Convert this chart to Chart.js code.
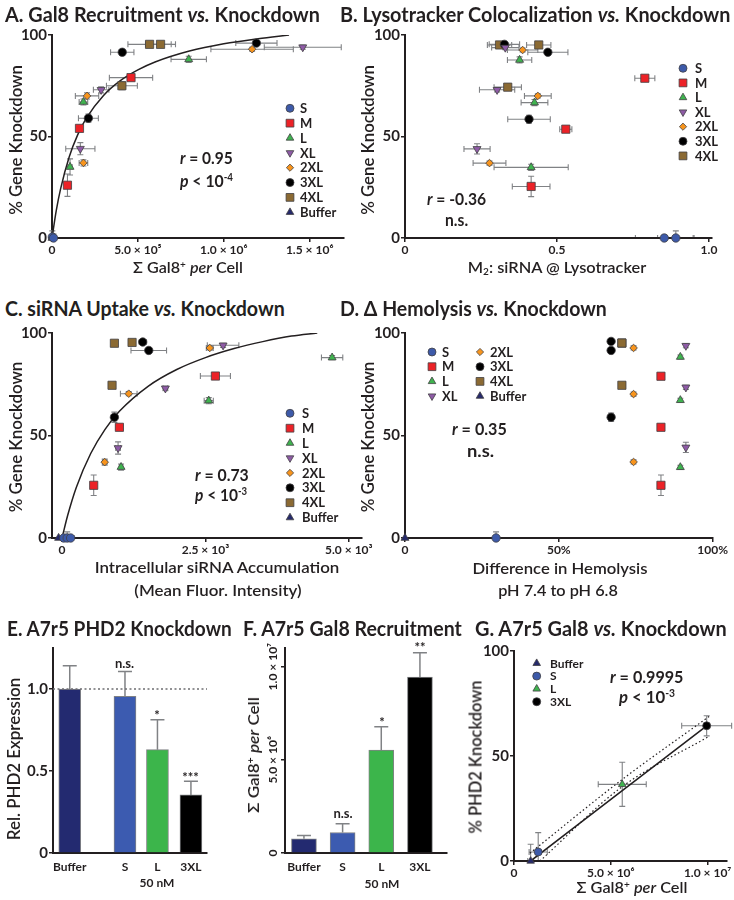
<!DOCTYPE html>
<html>
<head>
<meta charset="utf-8">
<script src="https://cdn.jsdelivr.net/npm/chart.js@4.4.1/dist/chart.umd.min.js"></script>
<style>
  body { margin: 0; width: 734px; height: 900px; position: relative; overflow: hidden; background: #fff; }
  canvas { position: absolute; }
  .t { position: absolute; white-space: nowrap; transform-origin: 0 0; color: #231f20; }
  .t sup { font-size: 0.62em; vertical-align: 0.55em; line-height: 0; }
  .t sub { font-size: 0.62em; vertical-align: -0.25em; line-height: 0; }
</style>
</head>
<body>
<script>
// ---- series order used by panels A-D
const series = ['S', 'M', 'L', 'XL', '2XL', '3XL', '4XL', 'Buffer'];

// A: sum Gal8+ per cell vs % knockdown
const aX = [[2e3, 9e3], [4.6e5, 1.6e5, 0.9e5], [7.96e5, 1.83e5, 1.05e5], [1.46e6, 2.86e5, 1.65e5],
            [1.165e6, 2.04e5, 1.83e5], [1.19e6, 4.09e5, 2.12e5], [5.68e5, 6.32e5, 4.07e5], [0]];
const aY = [[0.5, 0], [79, 54, 26], [88, 67, 35], [94, 73, 44], [93, 70, 37], [96, 91.5, 59], [95.4, 95.4, 75], [0]];
const aEX = [[8e3, 6e3], [1.26e5, 0.15e5, 0.15e5], [1.03e5, 0.25e5, 0.12e5], [2.24e5, 0.45e5, 0.85e5],
             [2.4e5, 0.68e5, 0.25e5], [1.2e5, 0.68e5, 0.58e5], [1.26e5, 0.87e5, 0.9e5], [0]];
const aEY = [[3, 2], [1.5, 1.5, 5.5], [1.5, 1.5, 4], [1, 1.5, 3], [1, 1.5, 1.5], [1, 1.5, 2], [1, 1, 2], [0]];
const aFitX = [0, 0.25e5, 0.5e5, 1e5, 1.5e5, 2e5, 3e5, 4e5, 5e5, 6e5, 8e5, 10e5, 12e5, 13.8e5];
const aFitY = [0, 13.6, 24.2, 39.9, 50.9, 59.0, 70.2, 77.6, 82.8, 86.7, 92.1, 95.7, 98.2, 100];

// B: M2 siRNA @ Lysotracker vs % knockdown
const bX = [[0.853, 0.891], [0.789, 0.529, 0.415], [0.377, 0.426, 0.415], [0.33, 0.303, 0.237],
            [0.387, 0.437, 0.278], [0.327, 0.470, 0.408], [0.311, 0.44, 0.338], []];
const bY = [[0, 0], [78.7, 53.6, 25.4], [87.7, 66.7, 34.8], [93.8, 73, 43.9], [92.6, 70, 36.9],
            [95.4, 91.5, 58.5], [95.1, 95.1, 74.3], []];
const bEX = [[0.095, 0.06], [0.033, 0.02, 0.062], [0.04, 0.044, 0.122], [0.045, 0.058, 0.043],
             [0.05, 0.044, 0.054], [0.05, 0.066, 0.07], [0.04, 0.04, 0.045], []];
const bEY = [[1.5, 3.5], [1.5, 1.5, 5], [1.5, 1.5, 1.5], [1, 1, 2.5], [1, 1, 1], [1, 1, 2], [1, 1, 1.5], []];

// C: intracellular siRNA (MFI) vs % knockdown
const cX = [[30, 90, 150], [2674, 1000, 552], [4709, 2558, 1029], [2808, 1802, 977],
            [2576, 1163, 744], [1407, 1512, 913], [913, 1221, 872], [-60]];
const cY = [[0, 0, 0], [79, 54, 25.7], [88, 67, 34.6], [94, 73, 43.9], [92.7, 70.4, 37],
            [95.6, 91.5, 58.9], [95, 95.4, 74.5], [0]];
const cEX = [[40, 40, 60], [262, 60, 40], [186, 80, 30], [275, 40, 40], [60, 145, 40], [60, 310, 40], [30, 40, 40], [0]];
const cEY = [[1, 3, 1], [1.5, 1.5, 5], [1, 1.5, 1.5], [1, 1, 3], [1, 1, 1.5], [1, 1, 2.5], [1, 1, 1.5], [0]];
const cFitX = [0, 100, 250, 500, 750, 1000, 1500, 2000, 2500, 3000, 3500, 4000, 4450];
const cFitY = [0, 11.2, 24.8, 41.2, 53, 61.8, 74, 82.2, 88, 92.4, 95.8, 98.5, 100];

// D: hemolysis difference (%) vs % knockdown
const dX = [[29.6], [83.2, 83.2, 83.2], [89.5, 89.5, 89.5], [91.3, 91.3, 91.3], [74.3, 74.3, 74.3],
            [67, 67, 67], [70.5, 70.5, 70.5], [0]];
const dY = [[0], [78.9, 54, 25.7], [88.3, 67.2, 34.5], [93.8, 73.5, 44.2], [92.7, 70.2, 37.1],
            [95.9, 91.5, 58.9], [95.1, 95.1, 74.5], [0]];
const dEY = [[3], [1.5, 1.5, 5], [1, 1, 1], [1, 1, 2.5], [1, 1, 1], [1, 1, 2], [1, 1, 1], [0]];

// E: A7r5 PHD2 expression (50 nM)
const eNames = ['Buffer', 'S', 'L', '3XL'];
const eX = [0, 1.65, 2.62, 3.62];
const eVal = [1.0, 0.955, 0.63, 0.354];
const eErr = [0.142, 0.152, 0.183, 0.083];
const eStars = ['', 'n.s.', '*', '***'];
const eRefX = [-0.5, 4.1];
const eRefY = [1, 1];

// F: A7r5 Gal8 recruitment
const fNames = ['Buffer', 'S', 'L', '3XL'];
const fX = [0, 1, 2, 3];
const fVal = [0.76e6, 1.10e6, 5.52e6, 9.44e6];
const fErr = [0.18e6, 0.47e6, 1.25e6, 1.31e6];
const fStars = ['', 'n.s.', '*', '**'];

// G: A7r5 Gal8 vs knockdown
const gNames = ['Buffer', 'S', 'L', '3XL'];
const gX = [0.86e6, 1.25e6, 5.59e6, 9.95e6];
const gY = [0, 4.3, 36.5, 64.4];
const gEX = [0.15e6, 0.47e6, 1.24e6, 1.29e6];
const gEY = [8, 9.2, 10.5, 4.8];
const gFitX = [0.86e6, 9.95e6];
const gFitY = [0, 64.4];
const gHiX = [0.82e6, 5.5e6, 10.1e6];
const gHiY = [3.7, 38.2, 69];
const gLoX = [1.34e6, 5.5e6, 10.1e6];
const gLoY = [0, 34.8, 59.5];

// ---- styles
const INK = '#231f20';
const EDGE = '#414042';
const WHISKER = '#808285';
const SANS = "Lato, 'Open Sans', sans-serif";
const fill = ['#3d5aa9', '#ec2227', '#3fb34f', '#8e5ba6', '#f7941d', '#000000', '#8b6a33', '#262a6b'];
const shape = ['circle', 'rect', 'triangle', 'triangle', 'rectRot', 'circle', 'rect', 'triangle'];
const turn = [0, 0, 0, 180, 0, 0, 0, 0];
const rad = [4.2, 5.8, 4.6, 4.6, 3.8, 4.2, 5.8, 4.6];
const barFill = ['#232a70', '#3c5bb0', '#3cb54b', '#000000'];

Chart.defaults.font.family = SANS;
Chart.defaults.color = INK;

const M = {l: 40, t: 12, r: 16, b: 30};
const keys = {};

function frame(id, a) {
  const c = document.createElement('canvas');
  c.id = id;
  c.width = a.r - a.l + M.l + M.r;
  c.height = a.b - a.t + M.t + M.b;
  c.style.left = (a.l - M.l) + 'px';
  c.style.top = (a.t - M.t) + 'px';
  document.body.appendChild(c);
  return c;
}

function axis(dir, min, max, ticks, labels, o = {}) {
  return {
    type: 'linear', position: dir === 'x' ? 'bottom' : 'left', min, max, offset: false,
    afterBuildTicks: s => { s.ticks = ticks.map(v => ({value: v})); },
    afterFit: s => { if (dir === 'x') s.height = M.b; else s.width = M.l; },
    grid: {display: true, drawOnChartArea: false, drawTicks: o.marks !== false, tickLength: 4,
           color: INK, lineWidth: 1.5, offset: false},
    border: {display: true, color: INK, width: 2},
    ticks: {display: o.show !== false, autoSkip: false, maxRotation: 0, minRotation: 0,
            padding: o.pad ?? 1, color: INK,
            font: {size: o.size || (dir === 'y' ? 15 : 12), weight: 'bold'},
            callback: (v, i) => labels[i]}
  };
}

function marker(ctx, shp, r, rot, x, y) {
  ctx.beginPath();
  if (shp === 'circle') ctx.arc(x, y, r, 0, 2 * Math.PI);
  else if (shp === 'rect') { const s = r * Math.SQRT1_2; ctx.rect(x - s, y - s, 2 * s, 2 * s); }
  else if (shp === 'rectRot') { ctx.moveTo(x, y - r); ctx.lineTo(x + r, y); ctx.lineTo(x, y + r); ctx.lineTo(x - r, y); ctx.closePath(); }
  else {
    let a = rot * Math.PI / 180;
    for (let j = 0; j < 3; j++) {
      const px = x + Math.sin(a) * r, py = y - Math.cos(a) * r;
      if (j) ctx.lineTo(px, py); else ctx.moveTo(px, py);
      a += 2 * Math.PI / 3;
    }
    ctx.closePath();
  }
  ctx.fill();
  ctx.stroke();
}

// error bars, drawn under the markers
const errorBars = {
  id: 'errorBars',
  beforeDatasetsDraw(chart) {
    const ctx = chart.ctx, xs = chart.scales.x, ys = chart.scales.y, ca = chart.chartArea;
    ctx.save();
    ctx.beginPath();
    ctx.rect(ca.left - 6, ca.top - 6, ca.right - ca.left + 12, ca.bottom - ca.top + 5);
    ctx.clip();
    chart.data.datasets.forEach(ds => {
      if (!ds.errX && !ds.errY) return;
      ctx.strokeStyle = WHISKER;
      ctx.lineWidth = ds.errUp ? 1.5 : 1.1;
      const cap = ds.errUp ? 7 : 3;
      ds.data.forEach((p, i) => {
        const px = xs.getPixelForValue(p.x), py = ys.getPixelForValue(p.y);
        const ex = ds.errX ? ds.errX[i] : 0, ey = ds.errY ? ds.errY[i] : 0;
        ctx.beginPath();
        if (ex) {
          const a = xs.getPixelForValue(p.x - ex), b = xs.getPixelForValue(p.x + ex);
          ctx.moveTo(a, py); ctx.lineTo(b, py);
          ctx.moveTo(a, py - cap); ctx.lineTo(a, py + cap);
          ctx.moveTo(b, py - cap); ctx.lineTo(b, py + cap);
        }
        if (ey) {
          const t = ys.getPixelForValue(p.y + ey), u = ds.errUp ? py : ys.getPixelForValue(p.y - ey);
          ctx.moveTo(px, u); ctx.lineTo(px, t);
          ctx.moveTo(px - cap, t); ctx.lineTo(px + cap, t);
          if (!ds.errUp) { ctx.moveTo(px - cap, u); ctx.lineTo(px + cap, u); }
        }
        ctx.stroke();
      });
    });
    ctx.restore();
  }
};

// in-plot keys (page coordinates)
const keyPlugin = {
  id: 'keyBox',
  afterDraw(chart) {
    const items = keys[chart.canvas.id] || [];
    const ctx = chart.ctx;
    const ox = parseFloat(chart.canvas.style.left), oy = parseFloat(chart.canvas.style.top);
    items.forEach(it => {
      ctx.save();
      ctx.fillStyle = fill[it.k]; ctx.strokeStyle = EDGE; ctx.lineWidth = 0.8;
      marker(ctx, shape[it.k], rad[it.k] * 0.95, turn[it.k], it.x - ox, it.y - oy);
      ctx.fillStyle = INK;
      ctx.font = `bold ${it.s || 13}px ${SANS}`;
      ctx.textBaseline = 'middle';
      ctx.fillText(series[it.k], it.tx - ox, it.y - oy + 0.5);
      ctx.restore();
    });
  }
};

function keyColumn(ks, x, tx, y0, dy, s) {
  return ks.map((k, i) => ({k, x, tx, y: y0 + i * dy, s}));
}

function markerSets(xs, ys, exs, eys) {
  return series.map((name, k) => ({
    type: 'scatter', label: name,
    data: xs[k].map((x, i) => ({x, y: ys[k][i]})),
    errX: exs ? exs[k] : null, errY: eys ? eys[k] : null,
    pointStyle: shape[k], pointRotation: turn[k], pointRadius: rad[k], pointHoverRadius: rad[k],
    backgroundColor: fill[k], borderColor: EDGE, borderWidth: 0.8, clip: false
  }));
}

function fitLine(xs, ys, o = {}) {
  return {type: 'line', data: xs.map((x, i) => ({x, y: ys[i]})), borderColor: INK,
          borderWidth: o.w || 1.5, borderDash: o.dash || [], pointRadius: 0,
          cubicInterpolationMode: 'monotone', fill: false, order: 10};
}

function baseOptions(scales) {
  return {
    responsive: false, animation: false, devicePixelRatio: 1,
    layout: {padding: {left: 0, top: M.t, right: M.r, bottom: 0}},
    plugins: {legend: {display: false}, tooltip: {enabled: false}},
    scales
  };
}

const pctTicks = [0, 50, 100], pctLabels = ['0', '50', '100'];

// ---- A
const areaA = {l: 52, t: 35, r: 344, b: 238};
keys.cA = keyColumn([0, 1, 2, 3, 4, 5, 6, 7], 290, 300, 108.3, 14.85);
new Chart(frame('cA', areaA), {
  type: 'scatter',
  data: {datasets: [...markerSets(aX, aY, aEX, aEY), fitLine(aFitX, aFitY)]},
  options: baseOptions({
    x: axis('x', 0, 1.7e6, [0, 5e5, 1e6, 1.5e6], ['0', '5.0 × 10⁵', '1.0 × 10⁶', '1.5 × 10⁶']),
    y: axis('y', 0, 100, pctTicks, pctLabels)
  }),
  plugins: [errorBars, keyPlugin]
});

// ---- B
const areaB = {l: 405, t: 35, r: 712, b: 238};
keys.cB = keyColumn([0, 1, 2, 3, 4, 5, 6], 683, 695, 68.3, 14.6);
new Chart(frame('cB', areaB), {
  type: 'scatter',
  data: {datasets: markerSets(bX, bY, bEX, bEY)},
  options: baseOptions({
    x: axis('x', 0, 1.01, [0, 0.5, 1], ['0', '0.5', '1.0']),
    y: axis('y', 0, 100, pctTicks, pctLabels)
  }),
  plugins: [errorBars, keyPlugin]
});

// ---- C
const areaC = {l: 52, t: 333, r: 362, b: 538};
keys.cC = keyColumn([0, 1, 2, 3, 4, 5, 6, 7], 290, 302, 413.3, 14.9);
new Chart(frame('cC', areaC), {
  type: 'scatter',
  data: {datasets: [...markerSets(cX, cY, cEX, cEY), fitLine(cFitX, cFitY)]},
  options: baseOptions({
    x: axis('x', -175, 5230, [0, 2500, 5000], ['0', '2.5 × 10³', '5.0 × 10³']),
    y: axis('y', 0, 100, pctTicks, pctLabels)
  }),
  plugins: [errorBars, keyPlugin]
});

// ---- D
const areaD = {l: 405, t: 333, r: 713, b: 538};
keys.cD = [...keyColumn([0, 1, 2, 3], 432, 442, 352, 14.7), ...keyColumn([4, 5, 6, 7], 480, 490, 352, 14.7)];
new Chart(frame('cD', areaD), {
  type: 'scatter',
  data: {datasets: markerSets(dX, dY, null, dEY)},
  options: baseOptions({
    x: axis('x', 0, 100, [0, 50, 100], ['0', '50%', '100%']),
    y: axis('y', 0, 100, pctTicks, pctLabels)
  }),
  plugins: [errorBars, keyPlugin]
});

// ---- E
const areaE = {l: 53, t: 648, r: 207, b: 853};
new Chart(frame('cE', areaE), {
  type: 'bar',
  data: {datasets: [
    {type: 'bar', data: eX.map((x, i) => ({x, y: eVal[i]})), backgroundColor: barFill,
     borderColor: WHISKER, borderWidth: 1, barThickness: 22, errY: eErr, errUp: true, order: 1},
    {type: 'line', data: eRefX.map((x, i) => ({x, y: eRefY[i]})), borderColor: '#6d6e71',
     borderWidth: 1.5, borderDash: [2, 2.5], pointRadius: 0, order: 0}
  ]},
  options: baseOptions({
    x: axis('x', -0.5, 4.1, eX, eNames, {marks: false, pad: 7, size: 12}),
    y: axis('y', 0, 1.25, [0, 0.5, 1], ['0', '0.5', '1.0'])
  }),
  plugins: [errorBars]
});

// ---- F
const areaF = {l: 285, t: 648, r: 447, b: 853};
const fTickVals = [0, 5e6, 1e7], fTickLabels = ['0', '5.0 × 10⁶', '1.0 × 10⁷'];
const sideTicks = {
  id: 'sideTicks',
  afterDraw(chart) {
    const s = chart.scales.y, ctx = chart.ctx;
    ctx.save();
    ctx.font = `bold 12px ${SANS}`; ctx.fillStyle = INK;
    ctx.textAlign = 'center'; ctx.textBaseline = 'middle';
    fTickVals.forEach((v, i) => {
      ctx.save();
      ctx.translate(s.right - 12, s.getPixelForValue(v));
      ctx.rotate(-Math.PI / 2);
      ctx.fillText(fTickLabels[i], 0, 0);
      ctx.restore();
    });
    ctx.restore();
  }
};
new Chart(frame('cF', areaF), {
  type: 'bar',
  data: {datasets: [
    {type: 'bar', data: fX.map((x, i) => ({x, y: fVal[i]})), backgroundColor: barFill,
     borderColor: WHISKER, borderWidth: 1, barThickness: 25, errY: fErr, errUp: true}
  ]},
  options: baseOptions({
    x: axis('x', -0.49, 3.7, fX, fNames, {marks: false, pad: 7, size: 12}),
    y: axis('y', 0, 1.1e7, fTickVals, fTickLabels, {show: false})
  }),
  plugins: [errorBars, sideTicks]
});

// ---- G
const areaG = {l: 514, t: 651, r: 727, b: 861};
const gStyle = [7, 0, 2, 5];
keys.cG = gStyle.map((k, i) => ({k, x: 536.7, tx: 550, y: 663.3 + i * 12.8, s: 12}));
new Chart(frame('cG', areaG), {
  type: 'scatter',
  data: {datasets: [
    ...gNames.map((n, i) => {
      const k = gStyle[i];
      return {type: 'scatter', label: n, data: [{x: gX[i], y: gY[i]}], errX: [gEX[i]], errY: [gEY[i]],
              pointStyle: shape[k], pointRotation: turn[k], pointRadius: rad[k] * 0.95,
              backgroundColor: fill[k], borderColor: EDGE, borderWidth: 0.8, clip: false};
    }),
    fitLine(gFitX, gFitY, {w: 1.6}),
    fitLine(gHiX, gHiY, {w: 1.2, dash: [1.5, 2.5]}),
    fitLine(gLoX, gLoY, {w: 1.2, dash: [1.5, 2.5]})
  ]},
  options: baseOptions({
    x: axis('x', 0, 1.1e7, [0, 5e6, 1e7], ['0', '5.0 × 10⁶', '1.0 × 10⁷']),
    y: axis('y', 0, 100, pctTicks, pctLabels)
  }),
  plugins: [errorBars, keyPlugin]
});

// ---- text
function txt(html, x, y, o) {
  const d = document.createElement('div');
  d.className = 't';
  d.innerHTML = html;
  d.style.font = `${o.w || 600} ${o.s}px/1 ${SANS}`;
  document.body.appendChild(d);
  const k = o.len ? o.len / d.offsetWidth : 1;
  d.style.left = x + 'px';
  d.style.top = y + 'px';
  d.style.transform = `rotate(${o.r || 0}deg) scaleX(${k}) translate(${o.a === 'l' ? '0' : '-50%'},-50%)`;
}

const gal = 'Σ Gal8<sup>+</sup> <i>per</i> Cell';
const knock = '% Gene Knockdown';

txt('A. Gal8 Recruitment <i>vs.</i> Knockdown', 5, 14, {s: 20, w: 700, a: 'l', len: 315});
txt('B. Lysotracker Colocalization <i>vs.</i> Knockdown', 340, 14, {s: 20, w: 700, a: 'l', len: 390});
txt('C. siRNA Uptake <i>vs.</i> Knockdown', 5, 308, {s: 20, w: 700, a: 'l', len: 280});
txt('D. Δ Hemolysis <i>vs.</i> Knockdown', 340, 308, {s: 20, w: 700, a: 'l', len: 267});
txt('E. A7r5 PHD2 Knockdown', 7, 628, {s: 20, w: 700, a: 'l', len: 225});
txt('F. A7r5 Gal8 Recruitment', 243, 628, {s: 20, w: 700, a: 'l', len: 219});
txt('G. A7r5 Gal8 <i>vs.</i> Knockdown', 475, 628, {s: 20, w: 700, a: 'l', len: 252});

txt(knock, 15, 140, {s: 17, r: -90, len: 150});
txt(gal, 188, 267, {s: 16, len: 110});
txt(knock, 367, 140, {s: 17, r: -90, len: 150});
txt('M<sub>2</sub>: siRNA @ Lysotracker', 557, 267, {s: 16, len: 179});
txt(knock, 15, 437, {s: 17, r: -90, len: 151});
txt('Intracellular siRNA Accumulation', 217, 567, {s: 16, len: 245});
txt('(Mean Fluor. Intensity)', 218, 590, {s: 16, len: 167});
txt(knock, 367, 437, {s: 17, r: -90, len: 151});
txt('Difference in Hemolysis', 560, 568, {s: 16, len: 175});
txt('pH 7.4 to pH 6.8', 558, 590, {s: 16, len: 120});
txt('Rel. PHD2 Expression', 13, 759, {s: 17, r: -90, len: 162});
txt(gal, 253, 755, {s: 16, r: -90, len: 116});
txt('% PHD2 Knockdown', 475, 757, {s: 17, r: -90, len: 153});
txt(gal, 632, 887, {s: 16, len: 111});

txt('<i>r</i> = 0.95', 180, 157, {s: 17, w: 700, a: 'l', len: 53});
txt('<i>p</i> &lt; 10<sup>-4</sup>', 180, 180, {s: 17, w: 700, a: 'l', len: 53});
txt('<i>r</i> = -0.36', 427, 198, {s: 17, w: 700, a: 'l', len: 59});
txt('n.s.', 445, 219, {s: 17, w: 700, a: 'l', len: 23});
txt('<i>r</i> = 0.73', 195, 474, {s: 17, w: 700, a: 'l', len: 54});
txt('<i>p</i> &lt; 10<sup>-3</sup>', 195, 494, {s: 17, w: 700, a: 'l', len: 52});
txt('<i>r</i> = 0.35', 452, 428, {s: 17, w: 700, a: 'l', len: 55});
txt('n.s.', 467, 450, {s: 17, w: 700, a: 'l', len: 27});
txt('<i>r</i> = 0.9995', 610, 676, {s: 17, w: 700, a: 'l', len: 73});
txt('<i>p</i> &lt; 10<sup>-3</sup>', 619, 696, {s: 17, w: 700, a: 'l', len: 56});

// significance marks and the shared concentration label
const eStarX = [69.5, 124.5, 157, 190.5], eStarY = [0, 663, 712, 774];
eStars.forEach((s, i) => { if (s) txt(s, eStarX[i], eStarY[i] + (s === 'n.s.' ? 0 : 3), {s: 13, w: 700}); });
const fStarX = [304, 343, 382, 420], fStarY = [0, 813, 719, 644];
fStars.forEach((s, i) => { if (s) txt(s, fStarX[i], fStarY[i] + (s === 'n.s.' ? 0 : 3), {s: 13, w: 700}); });
txt('50 nM', 157, 883, {s: 12, w: 700});
txt('50 nM', 382, 884, {s: 12, w: 700});
</script>
</body>
</html>
